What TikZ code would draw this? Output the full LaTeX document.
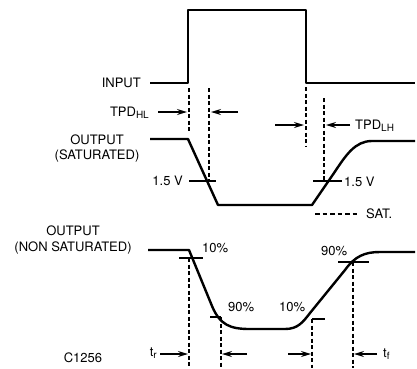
\documentclass[tikz,border=0pt]{standalone}
\usepackage{fontspec}
\setmainfont{TeX Gyre Heros}
\usetikzlibrary{arrows.meta}
\tikzset{
  wave/.style={line width=2.4pt, line join=round},
  dline/.style={line width=1.1pt, dash pattern=on 4pt off 2.5pt},
  tick/.style={line width=1.1pt},
  arr/.style={line width=1.3pt, -{Stealth[length=10pt,width=6pt]}},
  lbl/.style={inner sep=0pt, font=\fontsize{13}{15.5}\selectfont},
}
\newcommand{\sub}[1]{\raisebox{-0.35ex}{\fontsize{10}{10}\selectfont #1}}
\begin{document}
\begin{tikzpicture}[x=1pt,y=-1pt]
\useasboundingbox (0,0) rectangle (417,368);
% input waveform
\draw[wave] (150,83) -- (188,83) -- (188,10) -- (306,10) -- (306,83) -- (415,83);
% saturated output
\draw[wave] (150,139) -- (188,139) -- (218,205) -- (312,205) -- (334,173)
  .. controls (346,155) and (355,141) .. (372,141) -- (415,141);
% non saturated output
\draw[wave] (148,250) -- (189,250) -- (212,306) .. controls (220,325) and (230,329) .. (250,329)
  -- (285,329) .. controls (298,329) and (303,322) .. (310,313) -- (345,270)
  .. controls (355,256) and (365,252) .. (380,252) -- (415,252);
% labels
\node[lbl, anchor=east] (in) at (141,83) {INPUT};
\node[lbl, anchor=east] (tpdhl) at (149,113) {TPD\sub{HL}};
\node[lbl, anchor=west] (tpdlh) at (355,126) {TPD\sub{LH}};
\node[lbl, align=center] (outs) at (97,148.5) {OUTPUT\\(SATURATED)};
\node[lbl, anchor=east] (v1) at (183,181) {1.5 V};
\node[lbl, anchor=west] (v2) at (344,182) {1.5 V};
\node[lbl, anchor=west] (sat) at (366,214) {SAT.};
\node[lbl, align=center] (outn) at (73,240) {OUTPUT\\(NON SATURATED)};
\node[lbl, anchor=west] (p1) at (202,248) {10\%};
\node[lbl, anchor=west] (p2) at (228,307) {90\%};
\node[lbl, anchor=west] (p3) at (279,307) {10\%};
\node[lbl, anchor=west] (p4) at (321,251) {90\%};
\node[lbl, anchor=east] (tr) at (157,353) {t\sub{r}};
\node[lbl, anchor=west] (tf) at (383,354) {t\sub{f}};
\node[lbl] (cid) at (83,358) {C1256};
% coordinates
\coordinate (d1a) at (189,88);  \coordinate (d1b) at (189,132);
\coordinate (d2a) at (209,88);  \coordinate (d2b) at (209,181);
\coordinate (d3a) at (306,87);  \coordinate (d3b) at (306,147);
\coordinate (d4a) at (324,98);  \coordinate (d4b) at (324,181);
\coordinate (t1a) at (189,181); \coordinate (t1b) at (216,181);
\coordinate (t2a) at (313,181); \coordinate (t2b) at (342,181);
\coordinate (sa) at (315,214);  \coordinate (sb) at (360,214);
% top dashed lines and ticks
\draw[dline] (d1a) -- (d1b);
\draw[dline] (d2a) -- (d2b);
\draw[dline] (d3a) -- (d3b);
\draw[dline] (d4a) -- (d4b);
\draw[tick] (t1a) -- (t1b);
\draw[tick] (t2a) -- (t2b);
\draw[line width=1.3pt, dash pattern=on 4.5pt off 3pt] (sa) -- (sb);
% top arrows
\coordinate (a1a) at (158,112); \coordinate (a1b) at (187,112);
\coordinate (a2a) at (238,112); \coordinate (a2b) at (211,112);
\coordinate (a3a) at (275,125); \coordinate (a3b) at (304,125);
\coordinate (a4a) at (350,125); \coordinate (a4b) at (326,125);
\draw[arr] (a1a) -- (a1b);
\draw[arr] (a2a) -- (a2b);
\draw[arr] (a3a) -- (a3b);
\draw[arr] (a4a) -- (a4b);
% bottom ticks and dashed
\coordinate (k1a) at (179,258); \coordinate (k1b) at (203,258);
\coordinate (k2a) at (210,317); \coordinate (k2b) at (221,317);
\coordinate (k3a) at (312,319); \coordinate (k3b) at (325,319);
\coordinate (k4a) at (338,262); \coordinate (k4b) at (369,262);
\draw[tick] (k1a) -- (k1b);
\draw[tick] (k2a) -- (k2b);
\draw[tick] (k3a) -- (k3b);
\draw[tick] (k4a) -- (k4b);
\coordinate (e1a) at (189,258); \coordinate (e1b) at (189,368);
\coordinate (e2a) at (221,317); \coordinate (e2b) at (221,368);
\coordinate (e3a) at (312,319); \coordinate (e3b) at (312,368);
\coordinate (e4a) at (353,262); \coordinate (e4b) at (353,368);
\draw[dline] (e1a) -- (e1b);
\draw[dline] (e2a) -- (e2b);
\draw[dline] (e3a) -- (e3b);
\draw[dline] (e4a) -- (e4b);
% bottom arrows
\coordinate (b1a) at (160,354); \coordinate (b1b) at (188,354);
\coordinate (b2a) at (247,354); \coordinate (b2b) at (222,354);
\coordinate (b3a) at (288,354); \coordinate (b3b) at (311,354);
\coordinate (b4a) at (377,354); \coordinate (b4b) at (354,354);
\draw[arr] (b1a) -- (b1b);
\draw[arr] (b2a) -- (b2b);
\draw[arr] (b3a) -- (b3b);
\draw[arr] (b4a) -- (b4b);
\end{tikzpicture}
\end{document}
